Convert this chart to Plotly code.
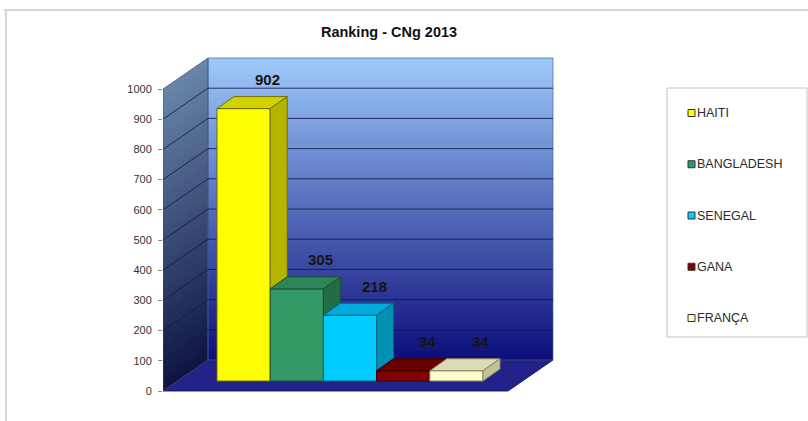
import plotly.graph_objects as go

# ---- data -------------------------------------------------------------
countries = ["HAITI", "BANGLADESH", "SENEGAL", "GANA", "FRANÇA"]
cases = [902, 305, 218, 34, 34]
y_ticks = [0, 100, 200, 300, 400, 500, 600, 700, 800, 900, 1000]
chart_title = "Ranking - CNg 2013"

# ---- styles -----------------------------------------------------------
front_colors = ["#FFFF00", "#339966", "#00CCFF", "#800000", "#FFFFCC"]
top_colors = ["#D2D200", "#2C865A", "#00AADA", "#680000", "#DCDCB2"]
side_colors = ["#B5B500", "#226C47", "#0090B4", "#520000", "#C2C298"]
edge_colors = ["#6E6E00", "#1B5236", "#006684", "#3A0000", "#85855E"]
FONT = "Liberation Sans, Arial, sans-serif"

# ---- geometry (pixel layout of the oblique projection) ---------------
W, H = 808, 421
PLOT_L, PLOT_R, PLOT_T, PLOT_B = 163, 563, 40, 400
Y0_PX = 391          # screen row of value 0 on the front plane
PX_PER_VAL = 0.302   # screen pixels per value unit
X0_PX = 243.6        # screen column of the first category centre
PX_PER_CAT = 53.2    # screen pixels per category


def ux(px):
    return (px - X0_PX) / PX_PER_CAT


def dx_units(dpx):
    return dpx / PX_PER_CAT


def dy_units(dpx):
    return dpx / PX_PER_VAL


def paper_x(px):
    return (px - PLOT_L) / (PLOT_R - PLOT_L)


def paper_y(py):
    return (PLOT_B - py) / (PLOT_B - PLOT_T)


x_range = [ux(PLOT_L), ux(PLOT_R)]
y_range = [(Y0_PX - PLOT_B) / PX_PER_VAL, (Y0_PX - PLOT_T) / PX_PER_VAL]

AXIS_MAX = y_ticks[-1]
WALL_X0 = ux(163)
WALL_X1 = ux(508)
WALL_DX = dx_units(45)
WALL_DY = dy_units(31)
BAR_BASE = dy_units(10)
BAR_DX = dx_units(17)
BAR_DY = dy_units(12)
STRIP_OVERLAP = dy_units(2.5)


def path(points):
    return "M " + " L ".join(f"{x:.4f},{y:.4f}" for x, y in points) + " Z"


def lerp(c0, c1, t):
    r, g, b = (round(a + (b_ - a) * t) for a, b_ in zip(c0, c1))
    return f"rgb({r},{g},{b})"


shapes = []

# back wall: vertical gradient from deep navy to light sky blue
back_bottom, back_top = (12, 14, 122), (158, 202, 250)
N = 70
for k in range(N):
    va = AXIS_MAX * k / N
    vb = min(AXIS_MAX, AXIS_MAX * (k + 1) / N + STRIP_OVERLAP)
    t = (k + 0.5) / N
    shapes.append(dict(
        type="rect", xref="x", yref="y", layer="below",
        x0=WALL_X0 + WALL_DX, x1=WALL_X1 + WALL_DX,
        y0=WALL_DY + va, y1=WALL_DY + vb,
        fillcolor=lerp(back_bottom, back_top, t), line=dict(width=0)))

# side wall: darker steel-blue gradient on the left parallelogram
side_bottom, side_top = (14, 20, 66), (104, 134, 170)
for k in range(N):
    va = AXIS_MAX * k / N
    vb = min(AXIS_MAX, AXIS_MAX * (k + 1) / N + STRIP_OVERLAP)
    t = (k + 0.5) / N
    shapes.append(dict(
        type="path", xref="x", yref="y", layer="below",
        path=path([(WALL_X0, va), (WALL_X0, vb),
                   (WALL_X0 + WALL_DX, vb + WALL_DY),
                   (WALL_X0 + WALL_DX, va + WALL_DY)]),
        fillcolor=lerp(side_bottom, side_top, t), line=dict(width=0)))

# floor
shapes.append(dict(
    type="path", xref="x", yref="y", layer="below",
    path=path([(WALL_X0, 0), (WALL_X1, 0),
               (WALL_X1 + WALL_DX, WALL_DY), (WALL_X0 + WALL_DX, WALL_DY)]),
    fillcolor="#222288", line=dict(color="rgba(20,20,90,0.9)", width=1)))

# wall outlines
shapes.append(dict(
    type="rect", xref="x", yref="y", layer="below",
    x0=WALL_X0 + WALL_DX, x1=WALL_X1 + WALL_DX,
    y0=WALL_DY, y1=WALL_DY + AXIS_MAX,
    fillcolor="rgba(0,0,0,0)", line=dict(color="rgba(70,100,150,0.7)", width=1)))
shapes.append(dict(
    type="path", xref="x", yref="y", layer="below",
    path=path([(WALL_X0, 0), (WALL_X0, AXIS_MAX),
               (WALL_X0 + WALL_DX, AXIS_MAX + WALL_DY),
               (WALL_X0 + WALL_DX, WALL_DY)]),
    fillcolor="rgba(0,0,0,0)", line=dict(color="rgba(60,80,120,0.7)", width=1)))

# gridlines on both walls
grid_color = "rgba(16,26,72,0.85)"
for v in y_ticks[1:-1]:
    shapes.append(dict(
        type="line", xref="x", yref="y", layer="below",
        x0=WALL_X0 + WALL_DX, x1=WALL_X1 + WALL_DX,
        y0=v + WALL_DY, y1=v + WALL_DY,
        line=dict(color=grid_color, width=1)))
    shapes.append(dict(
        type="line", xref="x", yref="y", layer="below",
        x0=WALL_X0, x1=WALL_X0 + WALL_DX,
        y0=v, y1=v + WALL_DY,
        line=dict(color=grid_color, width=1)))

# top and right faces of each bar (only the visible part of the side face)
n = len(cases)
for i, v in enumerate(cases):
    xl, xr = i - 0.5, i + 0.5
    top = BAR_BASE + v
    shapes.append(dict(
        type="path", xref="x", yref="y", layer="above",
        path=path([(xl, top), (xr, top),
                   (xr + BAR_DX, top + BAR_DY), (xl + BAR_DX, top + BAR_DY)]),
        fillcolor=top_colors[i], line=dict(color=edge_colors[i], width=1)))
    nxt = cases[i + 1] if i + 1 < n else 0
    lower = BAR_BASE + min(v, nxt)
    if lower < top:
        shapes.append(dict(
            type="path", xref="x", yref="y", layer="above",
            path=path([(xr, lower), (xr, top),
                       (xr + BAR_DX, top + BAR_DY),
                       (xr + BAR_DX, lower + BAR_DY)]),
            fillcolor=side_colors[i], line=dict(color=edge_colors[i], width=1)))

# legend box
shapes.append(dict(
    type="rect", xref="paper", yref="paper", layer="above",
    x0=paper_x(667), x1=paper_x(807), y0=paper_y(337), y1=paper_y(88),
    fillcolor="white", line=dict(color="#C4C4C4", width=1)))

# outer chart frame
shapes.append(dict(type="line", xref="paper", yref="paper",
                   x0=paper_x(4), x1=paper_x(810), y0=paper_y(10), y1=paper_y(10),
                   line=dict(color="#D6D6D6", width=2)))
shapes.append(dict(type="line", xref="paper", yref="paper",
                   x0=paper_x(6), x1=paper_x(6), y0=paper_y(10), y1=paper_y(425),
                   line=dict(color="#D6D6D6", width=2)))

annotations = []
# value labels above the bars
for i, v in enumerate(cases):
    annotations.append(dict(
        x=i, y=BAR_BASE + v, xref="x", yref="y", text=f"<b>{v}</b>",
        showarrow=False, xshift=24, yshift=29,
        font=dict(family=FONT, size=15, color="#141414")))

# legend entries
for k, name in enumerate(countries):
    cy = 113 + 51.25 * k
    shapes.append(dict(
        type="rect", xref="paper", yref="paper", layer="above",
        x0=paper_x(688), x1=paper_x(695),
        y0=paper_y(cy + 3.5), y1=paper_y(cy - 3.5),
        fillcolor=front_colors[k], line=dict(color="#333333", width=1)))
    annotations.append(dict(
        x=paper_x(695), y=paper_y(cy), xref="paper", yref="paper",
        text=name, showarrow=False, xanchor="left", yanchor="middle",
        font=dict(family=FONT, size=12.5, color="#2A2A2A")))

fig = go.Figure(go.Bar(
    x=list(range(n)), y=cases, base=BAR_BASE, width=1,
    marker=dict(color=front_colors, line=dict(color=edge_colors, width=1)),
    showlegend=False, hovertext=countries, hoverinfo="text+y"))

fig.update_layout(
    width=W, height=H,
    margin=dict(l=PLOT_L, r=W - PLOT_R, t=PLOT_T, b=H - PLOT_B),
    paper_bgcolor="white", plot_bgcolor="white",
    title=dict(text=f"<b>{chart_title}</b>", x=389 / W, xref="container",
               xanchor="center", y=1 - 32 / H, yref="container", yanchor="middle",
               font=dict(family=FONT, size=14.5, color="#111111")),
    xaxis=dict(range=x_range, visible=False, fixedrange=True),
    yaxis=dict(range=y_range, tickvals=y_ticks, ticktext=[str(t) for t in y_ticks],
               ticks="outside", ticklen=4, tickcolor="#8A8A8A",
               ticklabelstandoff=4,
               showgrid=False, zeroline=False, showline=False,
               tickfont=dict(family=FONT, size=11, color="#333333"),
               fixedrange=True),
    shapes=shapes, annotations=annotations, showlegend=False,
)

fig.write_html("out.html")
